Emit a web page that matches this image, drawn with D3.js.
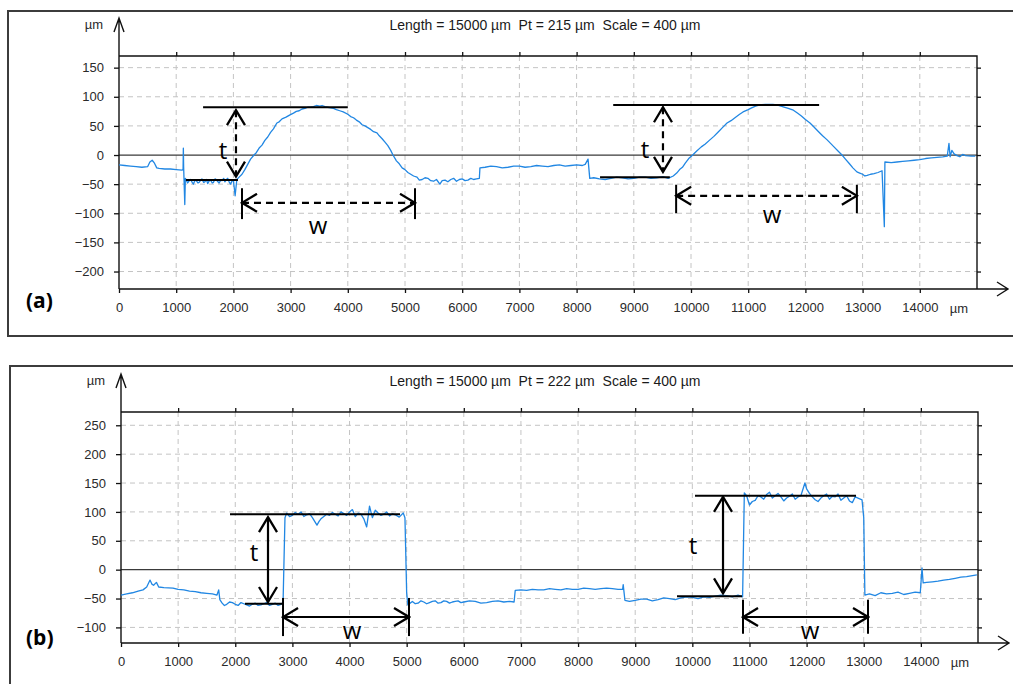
<!DOCTYPE html>
<html>
<head>
<meta charset="utf-8">
<script src="https://cdn.jsdelivr.net/npm/d3@7"></script>
<style>
  body { margin: 0; background: #fff; }
  svg { display: block; }
  text { font-family: "Liberation Sans", Arial, sans-serif; }
</style>
</head>
<body>
<script>
/* profile data, [position µm, height µm] */
var profileA = [
  [0,-17],[100,-18],[200,-19],[300,-20],[400,-21],[500,-20],[540,-12],[580,-9],[620,-14],[660,-22],
  [700,-23],[800,-24],[900,-24],[1000,-25],[1100,-26],[1120,-25],[1125,12],[1130,-20],[1150,-85],[1160,-40],
  [1200,-48],[1230,-44],[1250,-42],[1280,-47],[1300,-50],[1330,-43],[1350,-44],[1380,-48],[1400,-47],[1430,-43],
  [1450,-41],[1480,-47],[1500,-46],[1530,-42],[1550,-49],[1580,-44],[1600,-43],[1630,-48],[1650,-47],[1680,-41],
  [1700,-42],[1730,-46],[1750,-48],[1780,-43],[1800,-44],[1830,-40],[1850,-46],[1880,-42],[1900,-40],[1930,-47],
  [1950,-50],[1980,-44],[2000,-43],[2030,-70],[2060,-42],[2100,-38],[2150,-33],[2200,-25],[2250,-16],[2300,-7],
  [2360,0],[2400,4],[2450,12],[2500,17],[2550,25],[2600,31],[2650,39],[2700,45],[2760,55],[2800,57],
  [2850,62],[2920,65],[2990,69],[3050,72],[3100,75],[3150,76],[3200,79],[3250,80],[3300,82],[3350,82],
  [3400,83],[3450,85],[3510,84],[3550,85],[3600,83],[3650,82],[3700,81],[3750,80],[3800,78],[3860,76],
  [3920,74],[4000,70],[4050,66],[4100,64],[4150,60],[4200,57],[4250,52],[4300,50],[4350,47],[4400,44],
  [4450,40],[4510,38],[4550,33],[4600,28],[4650,22],[4700,16],[4750,8],[4790,0],[4850,-10],[4900,-15],
  [4950,-22],[5000,-25],[5050,-30],[5100,-33],[5150,-36],[5210,-38],[5250,-43],[5300,-42],[5350,-39],[5400,-40],
  [5450,-44],[5500,-45],[5550,-42],[5610,-50],[5650,-44],[5700,-43],[5750,-46],[5800,-42],[5850,-40],[5900,-45],
  [5950,-42],[6000,-41],[6050,-44],[6100,-43],[6150,-40],[6200,-42],[6250,-41],[6300,-40],[6310,-22],[6400,-21],
  [6500,-19],[6600,-20],[6700,-22],[6800,-21],[6900,-19],[7000,-19],[7100,-21],[7200,-20],[7300,-18],[7400,-19],
  [7500,-20],[7600,-18],[7700,-17],[7800,-19],[7900,-18],[8000,-17],[8100,-18],[8150,-16],[8200,-7],[8230,-40],
  [8300,-39],[8400,-41],[8500,-42],[8600,-40],[8700,-38],[8800,-39],[8900,-41],[9000,-40],[9100,-38],[9200,-38],
  [9300,-40],[9400,-39],[9510,-37],[9600,-40],[9690,-36],[9750,-31],[9800,-25],[9850,-21],[9900,-14],[9960,-6],
  [10030,0],[10100,7],[10180,14],[10250,19],[10330,26],[10400,32],[10480,40],[10550,47],[10630,55],[10700,59],
  [10780,65],[10850,70],[10910,74],[11000,78],[11060,81],[11130,84],[11210,86],[11300,87],[11430,87],[11500,86],
  [11600,83],[11700,80],[11790,77],[11860,72],[11930,67],[12000,61],[12080,55],[12150,48],[12230,40],[12300,33],
  [12380,26],[12440,20],[12500,14],[12570,7],[12640,0],[12700,-7],[12770,-15],[12830,-22],[12900,-29],[12950,-31],
  [13000,-33],[13040,-36],[13080,-35],[13140,-33],[13200,-32],[13270,-30],[13340,-27],[13380,-123],[13390,-12],[13500,-13],
  [13600,-12],[13700,-11],[13800,-10],[13900,-9],[14000,-8],[14100,-6],[14200,-5],[14300,-4],[14400,-3],[14480,-2],
  [14510,20],[14530,-3],[14560,8],[14600,2],[14650,-1],[14700,-3],[14750,1],[14800,-1],[14900,-2],[14970,-2]
];

var profileB = [
  [0,-44],[100,-42],[200,-40],[300,-37],[385,-35],[450,-30],[508,-18],[540,-25],[570,-27],[620,-22],
  [660,-30],[750,-31],[910,-32],[1000,-34],[1100,-35],[1200,-37],[1300,-38],[1400,-40],[1500,-41],[1600,-42],
  [1680,-44],[1710,-35],[1730,-52],[1770,-58],[1810,-62],[1850,-60],[1900,-56],[1950,-57],[2000,-60],[2050,-62],
  [2100,-57],[2150,-59],[2200,-61],[2250,-63],[2300,-60],[2350,-58],[2400,-62],[2450,-61],[2500,-59],[2550,-57],
  [2600,-62],[2650,-60],[2700,-58],[2750,-62],[2800,-60],[2820,-58],[2836,-60],[2870,90],[2900,98],[2950,92],
  [3000,94],[3050,99],[3100,96],[3150,100],[3200,92],[3250,95],[3300,97],[3350,90],[3430,77],[3470,84],
  [3500,88],[3550,92],[3600,96],[3650,94],[3700,99],[3750,96],[3800,93],[3850,100],[3900,97],[3950,94],
  [4000,100],[4050,104],[4100,92],[4150,98],[4200,96],[4250,88],[4300,74],[4330,95],[4350,110],[4380,98],
  [4400,90],[4450,103],[4500,98],[4550,94],[4600,96],[4650,100],[4700,93],[4750,97],[4800,95],[4870,91],
  [4940,98],[4970,90],[5000,-40],[5020,-61],[5100,-55],[5150,-59],[5200,-58],[5250,-54],[5300,-56],[5350,-59],
  [5400,-57],[5450,-55],[5500,-54],[5550,-58],[5600,-57],[5650,-54],[5700,-55],[5750,-58],[5800,-56],[5850,-55],
  [5900,-54],[5950,-57],[6000,-56],[6100,-54],[6200,-55],[6300,-58],[6400,-57],[6500,-55],[6600,-54],[6700,-56],
  [6800,-55],[6880,-56],[6900,-36],[7000,-35],[7100,-36],[7200,-34],[7300,-35],[7400,-35],[7500,-33],[7600,-34],
  [7700,-35],[7800,-33],[7900,-34],[8000,-34],[8100,-32],[8200,-33],[8300,-34],[8400,-33],[8500,-32],[8600,-33],
  [8700,-34],[8780,-34],[8790,-26],[8820,-53],[8900,-55],[9000,-53],[9100,-51],[9200,-51],[9300,-54],[9400,-52],
  [9500,-49],[9600,-50],[9700,-52],[9800,-49],[9900,-47],[10000,-48],[10100,-50],[10200,-47],[10300,-48],[10400,-46],
  [10500,-44],[10600,-45],[10700,-47],[10800,-44],[10880,-47],[10910,133],[10950,128],[11000,112],[11050,118],[11100,120],
  [11150,128],[11200,126],[11250,122],[11300,130],[11350,134],[11400,124],[11450,128],[11500,132],[11550,126],[11600,119],
  [11650,124],[11700,127],[11750,131],[11800,122],[11850,126],[11900,128],[11970,150],[12000,140],[12050,132],[12100,126],
  [12150,121],[12200,118],[12250,124],[12300,128],[12350,131],[12400,122],[12450,127],[12500,126],[12550,131],[12600,120],
  [12650,124],[12700,128],[12750,119],[12800,116],[12850,126],[12900,124],[12970,121],[13000,90],[13020,-44],[13100,-42],
  [13200,-45],[13300,-40],[13400,-42],[13500,-41],[13600,-39],[13700,-43],[13800,-41],[13900,-39],[13990,-40],[14020,3],
  [14040,-23],[14100,-22],[14200,-21],[14300,-20],[14400,-18],[14500,-17],[14600,-15],[14700,-13],[14800,-12],[14980,-9]
];

var xTicks = [0,1000,2000,3000,4000,5000,6000,7000,8000,9000,10000,11000,12000,13000,14000];
var yTicksA = [150,100,50,0,-50,-100,-150,-200];
var yTicksB = [250,200,150,100,50,0,-50,-100];
var yDomainA = [-230,170];
var yDomainB = [-127,273];
var titleA = "Length = 15000 \u00b5m  Pt = 215 \u00b5m  Scale = 400 \u00b5m";
var titleB = "Length = 15000 \u00b5m  Pt = 222 \u00b5m  Scale = 400 \u00b5m";

/* measured features (µm): base line, top line, t arrow, w arrow */
var featuresA = [
  {base:[1170,2080,-43], top:[1470,4000,82], t:[2045,77,-37], tLabel:[1818,9], w:[2150,5175,-82], wBar:[-57,-110], wLabel:[3480,-120]},
  {base:[8410,9630,-38], top:[8640,12240,86], t:[9510,82,-29], tLabel:[9196,12], w:[9740,12900,-70], wBar:[-51,-100], wLabel:[11416,-101]}
];
var featuresB = [
  {base:[2170,2836,-59], top:[1908,4884,96], t:[2573,91,-56], tLabel:[2328,31], w:[2836,5041,-82], wBar:[-49,-115], wLabel:[4043,-104]},
  {base:[9732,10870,-46], top:[10047,12865,128], t:[10537,126,-41], tLabel:[10012,43], w:[10887,13075,-82], wBar:[-52,-111], wLabel:[12060,-104]}
];

var svg = d3.select("body").append("svg")
  .attr("width", 1013)
  .attr("height", 684)

var defs = svg.append("defs")
defs.append("marker")
  .attr("id", "chev")
  .attr("markerUnits", "userSpaceOnUse")
  .attr("viewBox", "0 0 20 20")
  .attr("markerWidth", 20)
  .attr("markerHeight", 20)
  .attr("refX", 18)
  .attr("refY", 10)
  .attr("orient", "auto-start-reverse")
  .append("path")
  .attr("d", "M3,1 L18,10 L3,19")
  .attr("fill", "none")
  .attr("stroke", "#000")
  .attr("stroke-width", 2.3)
  .attr("stroke-dasharray", "none")

drawPanel({
  frame: [8, 11, 1040, 325], left: 119, right: 977, top: 56, bottom: 289,
  yDomain: yDomainA, yTicks: yTicksA, data: profileA, title: titleA, titleY: 25,
  tag: "(a)", tagY: 308, features: featuresA, dashed: true
})

drawPanel({
  frame: [10, 366, 1040, 340], left: 121, right: 978, top: 412, bottom: 643,
  yDomain: yDomainB, yTicks: yTicksB, data: profileB, title: titleB, titleY: 381,
  tag: "(b)", tagY: 645, features: featuresB, dashed: false
})

function drawPanel(p) {
  var x = d3.scaleLinear().domain([0, 15000]).range([p.left, p.right])
  var y = d3.scaleLinear().domain(p.yDomain).range([p.bottom, p.top])
  var g = svg.append("g")

  g.append("rect")
    .attr("x", p.frame[0]).attr("y", p.frame[1])
    .attr("width", p.frame[2]).attr("height", p.frame[3])
    .attr("fill", "none")
    .attr("stroke", "#3c3c3c")
    .attr("stroke-width", 2)

  // dashed grid
  g.append("g").selectAll("line")
    .data(p.yTicks.filter(function(d) {return d != 0}))
    .enter().append("line")
    .attr("x1", p.left).attr("x2", p.right)
    .attr("y1", function(d) {return y(d)}).attr("y2", function(d) {return y(d)})
    .attr("stroke", "#c4c4c4").attr("stroke-dasharray", "5,4")
  g.append("g").selectAll("line")
    .data(xTicks.slice(1))
    .enter().append("line")
    .attr("x1", function(d) {return x(d)}).attr("x2", function(d) {return x(d)})
    .attr("y1", p.top).attr("y2", p.bottom)
    .attr("stroke", "#c4c4c4").attr("stroke-dasharray", "5,4")

  // zero line
  g.append("line")
    .attr("x1", p.left).attr("x2", p.right)
    .attr("y1", y(0)).attr("y2", y(0))
    .attr("stroke", "#3a3a3a").attr("stroke-width", 1.2)

  // frame axes with ticks
  var axTop = g.append("g").attr("transform", "translate(0," + p.top + ")")
    .call(d3.axisTop(x).tickValues(xTicks.slice(1)).tickSize(4).tickFormat(""))
  var axRight = g.append("g").attr("transform", "translate(" + p.right + ",0)")
    .call(d3.axisRight(y).tickValues(p.yTicks).tickSize(4).tickFormat(""))
  var axLeft = g.append("g").attr("transform", "translate(" + p.left + ",0)")
    .call(d3.axisLeft(y).tickValues(p.yTicks).tickSize(5).tickPadding(10).tickFormat(d3.format("d")))
  var axBottom = g.append("g").attr("transform", "translate(0," + p.bottom + ")")
    .call(d3.axisBottom(x).tickValues(xTicks).tickSize(4).tickPadding(10).tickFormat(d3.format("d")))

  ;[axTop, axRight, axLeft, axBottom].forEach(function(a) {
    a.select(".domain").remove()
    a.selectAll("line").attr("stroke", "#111").attr("stroke-width", 1.3)
    a.selectAll("text")
      .attr("fill", "#2a2a2a")
      .style("font-size", "13px")
      .style("font-family", "'Liberation Sans', Arial, sans-serif")
  })

  // axis lines with arrows
  var tipY = p.top - 38, tipX = p.right + 31
  g.append("path")
    .attr("d", "M" + p.left + "," + p.bottom + "V" + tipY +
               "M" + (p.left - 5) + "," + (tipY + 14) + "L" + p.left + "," + tipY + "L" + (p.left + 5) + "," + (tipY + 14))
    .attr("fill", "none").attr("stroke", "#111").attr("stroke-width", 1.4)
  g.append("path")
    .attr("d", "M" + p.left + "," + p.bottom + "H" + tipX +
               "M" + (tipX - 11) + "," + (p.bottom - 7) + "L" + tipX + "," + p.bottom + "L" + (tipX - 11) + "," + (p.bottom + 7))
    .attr("fill", "none").attr("stroke", "#111").attr("stroke-width", 1.4)
  g.append("path")
    .attr("d", "M" + p.left + "," + p.top + "H" + p.right + "V" + p.bottom)
    .attr("fill", "none").attr("stroke", "#111").attr("stroke-width", 1.4)

  g.append("text")
    .attr("x", p.left - 16).attr("y", tipY + 11)
    .attr("text-anchor", "end")
    .attr("fill", "#2a2a2a")
    .style("font-size", "13px")
    .text("\u00b5m")
  g.append("text")
    .attr("x", x(14000) + 30).attr("y", p.bottom + 24)
    .attr("fill", "#2a2a2a")
    .style("font-size", "13px")
    .text("\u00b5m")

  g.append("text")
    .attr("x", 545).attr("y", p.titleY)
    .attr("text-anchor", "middle")
    .attr("dominant-baseline", "central")
    .attr("fill", "#1a1a1a")
    .style("font-size", "14px")
    .style("white-space", "pre")
    .text(p.title)

  g.append("text")
    .attr("x", 26).attr("y", p.tagY)
    .style("font-family", "'Open Sans', sans-serif")
    .style("font-weight", "bold")
    .style("font-size", "21px")
    .text(p.tag)

  // profile
  var line = d3.line()
    .x(function(d) {return x(d[0])})
    .y(function(d) {return y(d[1])})
  g.append("path")
    .datum(p.data)
    .attr("d", line)
    .attr("fill", "none")
    .attr("stroke", "#2187e3")
    .attr("stroke-width", 1.3)
    .attr("stroke-linejoin", "round")

  // t / w annotations
  var dash = p.dashed ? "7,5" : "none"
  var ann = g.append("g").selectAll("g").data(p.features).enter().append("g")
  ann.append("line")
    .attr("x1", function(d) {return x(d.top[0])}).attr("x2", function(d) {return x(d.top[1])})
    .attr("y1", function(d) {return y(d.top[2])}).attr("y2", function(d) {return y(d.top[2])})
    .attr("stroke", "#000").attr("stroke-width", 2)
  ann.append("line")
    .attr("x1", function(d) {return x(d.base[0])}).attr("x2", function(d) {return x(d.base[1])})
    .attr("y1", function(d) {return y(d.base[2])}).attr("y2", function(d) {return y(d.base[2])})
    .attr("stroke", "#000").attr("stroke-width", 2)
  ann.append("line")
    .attr("x1", function(d) {return x(d.t[0])}).attr("x2", function(d) {return x(d.t[0])})
    .attr("y1", function(d) {return y(d.t[1])}).attr("y2", function(d) {return y(d.t[2])})
    .attr("stroke", "#000").attr("stroke-width", 2.2)
    .attr("stroke-dasharray", dash)
    .attr("marker-start", "url(#chev)").attr("marker-end", "url(#chev)")
  ann.append("line")
    .attr("x1", function(d) {return x(d.w[0])}).attr("x2", function(d) {return x(d.w[1])})
    .attr("y1", function(d) {return y(d.w[2])}).attr("y2", function(d) {return y(d.w[2])})
    .attr("stroke", "#000").attr("stroke-width", 2.2)
    .attr("stroke-dasharray", dash)
    .attr("marker-start", "url(#chev)").attr("marker-end", "url(#chev)")
  ann.each(function(d) {
    var a = d3.select(this)
    ;[d.w[0], d.w[1]].forEach(function(v) {
      a.append("line")
        .attr("x1", x(v)).attr("x2", x(v))
        .attr("y1", y(d.wBar[0])).attr("y2", y(d.wBar[1]))
        .attr("stroke", "#000").attr("stroke-width", 2)
    })
  })
  ann.append("text")
    .attr("x", function(d) {return x(d.tLabel[0])}).attr("y", function(d) {return y(d.tLabel[1])})
    .attr("text-anchor", "middle").attr("dominant-baseline", "central")
    .style("font-family", "'Open Sans', sans-serif").style("font-size", "24px")
    .text("t")
  ann.append("text")
    .attr("x", function(d) {return x(d.wLabel[0])}).attr("y", function(d) {return y(d.wLabel[1])})
    .attr("text-anchor", "middle").attr("dominant-baseline", "central")
    .style("font-family", "'Open Sans', sans-serif").style("font-size", "24px")
    .text("w")
}
</script>
</body>
</html>
